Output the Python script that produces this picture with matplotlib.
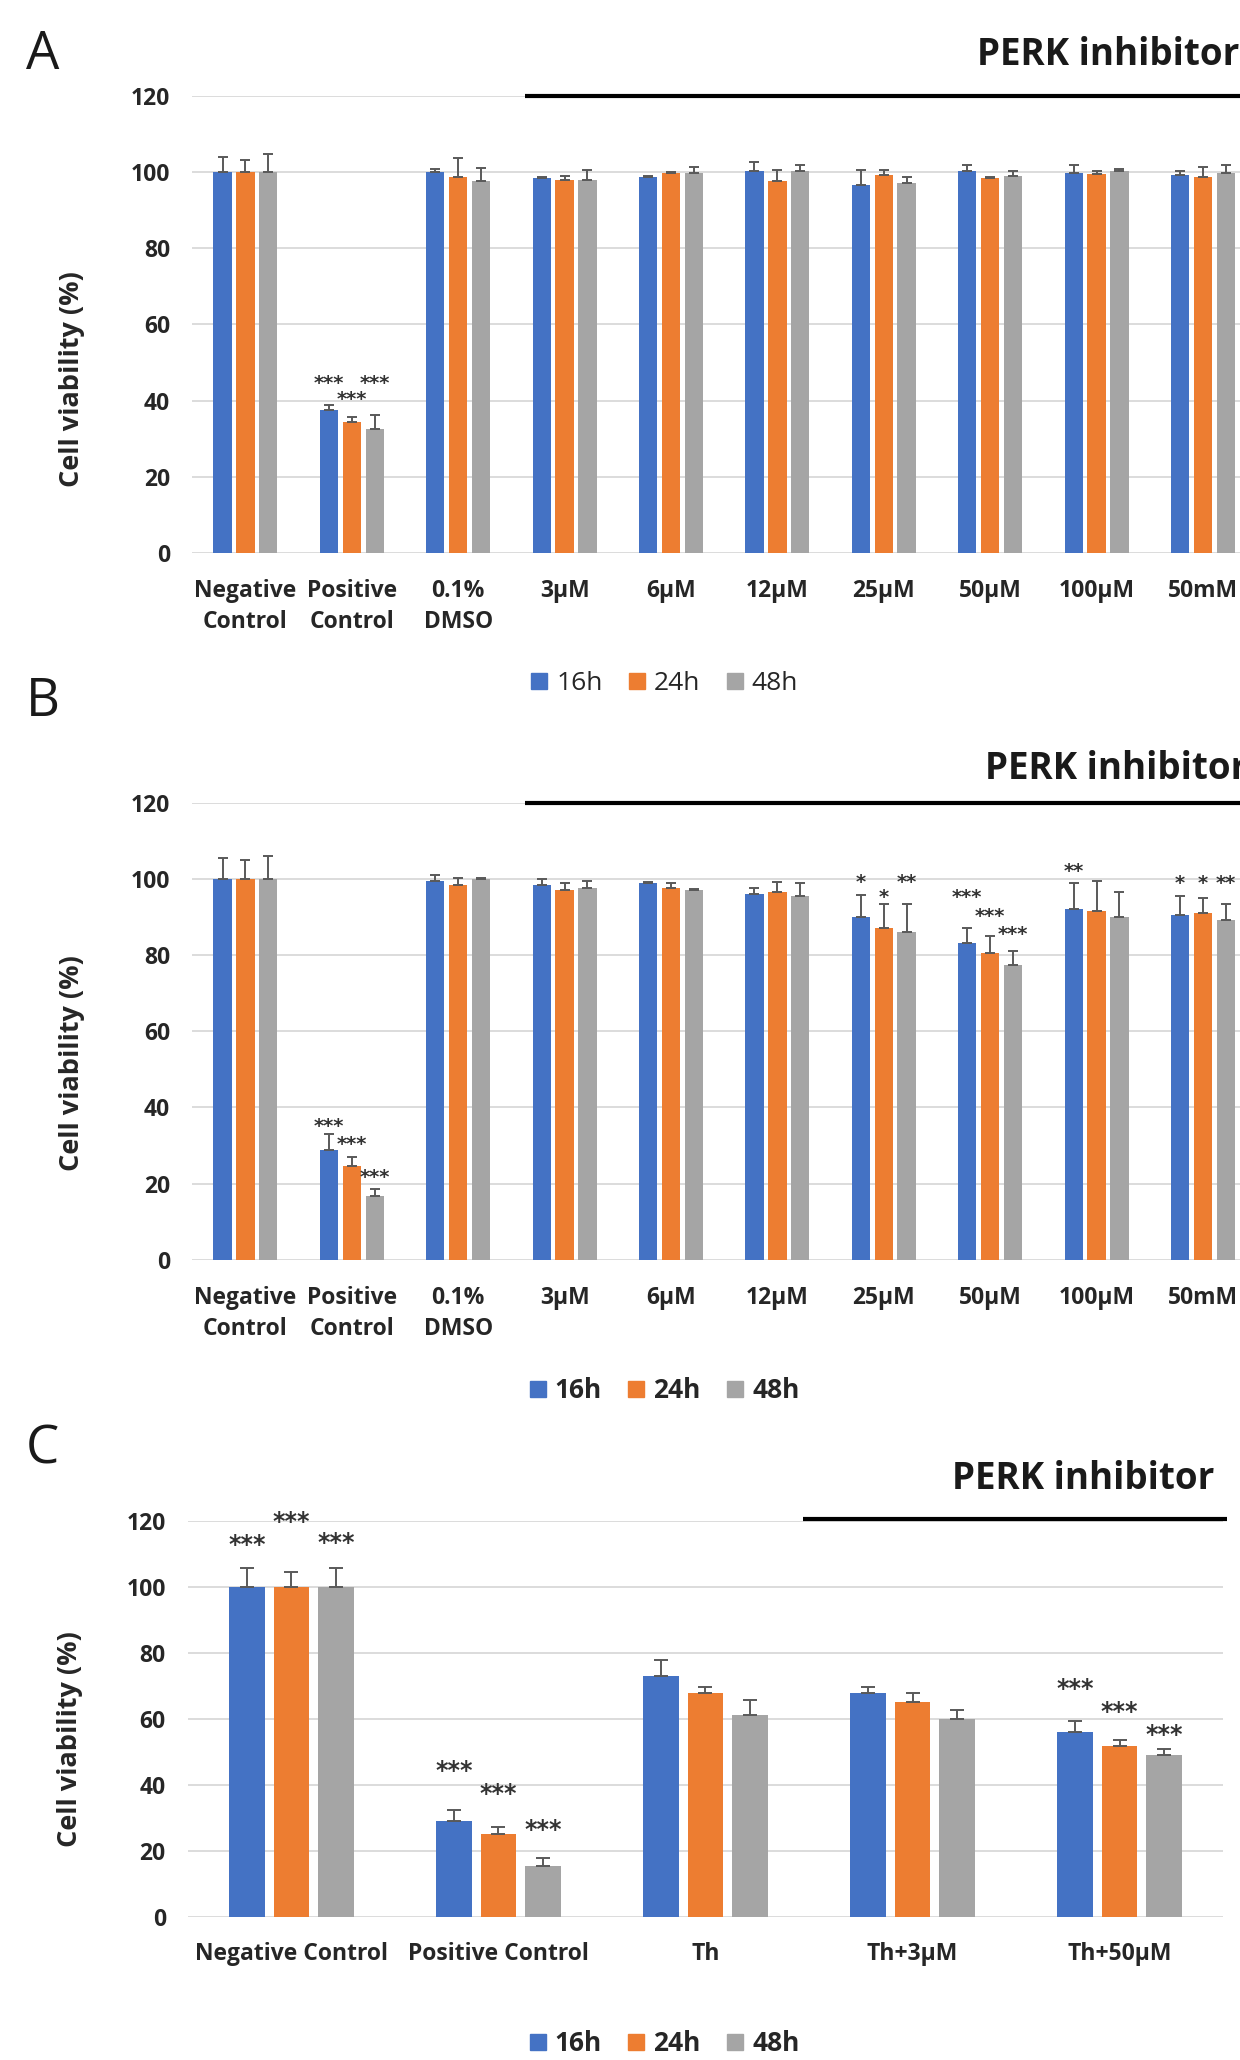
import matplotlib
matplotlib.use('Agg')
import matplotlib.pyplot as plt
from matplotlib.lines import Line2D
import numpy as np

plt.rcParams['font.family'] = ['Open Sans', 'DejaVu Sans']

series = ['16h', '24h', '48h']
colors = ['#4472C4', '#ED7D31', '#A5A5A5']

cats_ab = ['Negative\nControl', 'Positive\nControl', '0.1%\nDMSO', '3µM', '6µM',
           '12µM', '25µM', '50µM', '100µM', '50mM']
cats_c = ['Negative Control', 'Positive Control', 'Th', 'Th+3µM', 'Th+50µM']

# panel A
a16 = [100, 37.6, 100, 98.5, 98.6, 100.4, 96.5, 100.3, 99.8, 99.2]
a24 = [100, 34.3, 98.6, 98.0, 99.8, 97.7, 99.2, 98.5, 99.5, 98.6]
a48 = [100, 32.5, 97.7, 98.0, 99.7, 100.3, 97.1, 98.9, 100.3, 99.8]
a16_err = [4.0, 1.2, 0.9, 0.3, 0.3, 2.2, 4.1, 1.5, 2.0, 1.1]
a24_err = [3.2, 1.5, 5.0, 1.1, 0.3, 2.9, 1.4, 0.3, 0.9, 2.8]
a48_err = [4.7, 3.8, 3.5, 2.6, 1.7, 1.5, 1.5, 1.4, 0.4, 2.0]
a_stars = [(1, 0, 44.5, '***'), (1, 1, 40.2, '***'), (1, 2, 44.5, '***')]

# panel B
b16 = [100, 28.9, 99.5, 98.5, 98.9, 96.0, 89.9, 83.1, 92.1, 90.5]
b24 = [100, 24.6, 98.5, 97.1, 97.7, 96.6, 87.2, 80.6, 91.6, 90.9]
b48 = [100, 16.7, 99.9, 97.7, 97.1, 95.4, 86.0, 77.3, 89.9, 89.3]
b16_err = [5.4, 4.2, 1.5, 1.4, 0.3, 1.7, 5.9, 4.1, 6.8, 4.9]
b24_err = [5.0, 2.3, 1.8, 1.8, 1.2, 2.6, 6.1, 4.3, 7.8, 4.1]
b48_err = [5.9, 2.0, 0.4, 1.6, 0.3, 3.6, 7.3, 3.8, 6.7, 4.0]
b_stars = [(1, 0, 35.1, '***'), (1, 1, 30.2, '***'), (1, 2, 21.7, '***'),
           (6, 0, 98.9, '*'), (6, 1, 95.2, '*'), (6, 2, 98.9, '**'),
           (7, 0, 95.2, '***'), (7, 1, 90.2, '***'), (7, 2, 85.5, '***'),
           (8, 0, 102.0, '**'),
           (9, 0, 98.7, '*'), (9, 1, 98.7, '*'), (9, 2, 98.7, '**')]

# panel C
c16 = [100, 28.9, 72.9, 67.7, 56.1]
c24 = [100, 25.1, 67.7, 65.1, 51.7]
c48 = [100, 15.4, 61.3, 60.0, 49.1]
c16_err = [5.9, 3.5, 5.1, 1.9, 3.3]
c24_err = [4.6, 2.1, 1.9, 2.6, 1.9]
c48_err = [5.9, 2.5, 4.5, 2.6, 1.9]
c_stars = [(0, 0, 112.7, '***'), (0, 1, 119.7, '***'), (0, 2, 113.3, '***'),
           (1, 0, 44.3, '***'), (1, 1, 37.2, '***'), (1, 2, 26.3, '***'),
           (4, 0, 69.2, '***'), (4, 1, 62.2, '***'), (4, 2, 55.1, '***')]

TXT = '#262626'
STEP = 0.215


def draw_panel(ax, cats, vals, errs, stars, cap, ylab_y, star_fs, xpad):
    x = np.arange(len(cats))
    for i in range(3):
        ax.bar(x + (i - 1) * STEP, vals[i], 0.172, color=colors[i], zorder=2,
               yerr=[np.zeros(len(cats)), errs[i]],
               error_kw=dict(ecolor='#595959', elinewidth=1.4, capsize=cap,
                             capthick=1.4, zorder=3))
    for k, s, y, t in stars:
        ax.text(k + (s - 1) * STEP, y, t, ha='center', va='center', fontsize=star_fs,
                fontweight='bold', family='DejaVu Sans', color='#333333', zorder=4)
    ax.set_ylim(0, 120)
    ax.set_yticks(range(0, 121, 20))
    ax.set_xlim(-0.5, len(cats) - 0.5)
    ax.set_xticks(x)
    ax.set_xticklabels(cats, fontsize=16.5, fontweight='bold', color=TXT,
                       linespacing=1.4)
    for lab in ax.get_yticklabels():
        lab.set_fontsize(16.5)
        lab.set_fontweight('bold')
        lab.set_color(TXT)
    ax.yaxis.grid(True, color='#D9D9D9', lw=1.3)
    ax.set_axisbelow(True)
    for sp in ax.spines.values():
        sp.set_visible(False)
    ax.tick_params(length=0)
    ax.tick_params(axis='x', pad=xpad)
    ax.tick_params(axis='y', pad=16)
    ax.set_ylabel('Cell viability (%)', fontsize=19.5, fontweight='bold', color=TXT)
    ax.yaxis.set_label_coords(-0.101, ylab_y)


def perk(ax, x0, x1, ly, tx, ty):
    ax.plot([x0, x1], [ly, ly], color='black', lw=3, clip_on=False, zorder=5,
            solid_capstyle='butt')
    ax.text(tx, ty, 'PERK inhibitor', fontsize=26.5, fontweight='bold', color='#1a1a1a',
            ha='left', va='center', clip_on=False)


def legend(fig, y, weight):
    handles = [Line2D([0], [0], marker='s', ls='none', markersize=11,
                      markerfacecolor=c, markeredgecolor=c) for c in colors]
    fig.legend(handles, series, loc='center', bbox_to_anchor=(0.536, y), ncol=3,
               frameon=False, prop=dict(size=19, weight=weight),
               handlelength=0.6, handletextpad=0.35, columnspacing=1.0,
               labelcolor=TXT)


fig = plt.figure(figsize=(12.4, 20.6), dpi=100)

axA = fig.add_axes([0.155, 0.7316, 0.858, 0.2218])
draw_panel(axA, cats_ab, [a16, a24, a48], [a16_err, a24_err, a48_err], a_stars,
           3.5, 0.38, 14, 19)
perk(axA, 2.63, 9.6, 120, 6.88, 130.7)

axB = fig.add_axes([0.155, 0.3884, 0.858, 0.2220])
draw_panel(axB, cats_ab, [b16, b24, b48], [b16_err, b24_err, b48_err], b_stars,
           3.5, 0.43, 14, 19)
perk(axB, 2.63, 9.6, 120, 6.95, 128.8)

axC = fig.add_axes([0.1516, 0.0696, 0.8347, 0.1920])
draw_panel(axC, cats_c, [c16, c24, c48], [c16_err, c24_err, c48_err], c_stars,
           5, 0.45, 17, 18)
perk(axC, 2.47, 4.52, 120.5, 3.19, 132.7)

legend(fig, 0.668, 'normal')
legend(fig, 0.3248, 'bold')
legend(fig, 0.0078, 'bold')

for letter, yb in [('A', 0.9665), ('B', 0.6524), ('C', 0.2898)]:
    fig.text(0.021, yb, letter, fontsize=38, color='#1a1a1a', va='baseline', ha='left')

fig.savefig('out.png', dpi=100)
